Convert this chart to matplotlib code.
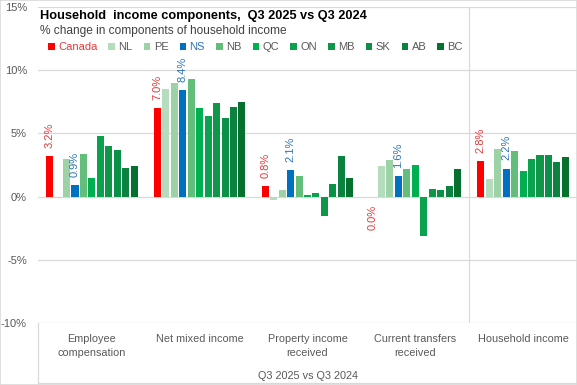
import matplotlib
matplotlib.use("Agg")
import matplotlib.pyplot as plt
from matplotlib import font_manager
from matplotlib.patches import Rectangle
from matplotlib.lines import Line2D
import numpy as np

# pick a narrow font if the box has one
names = {f.name for f in font_manager.fontManager.ttflist}
narrow = "Liberation Sans Narrow" in names
if narrow:
    plt.rcParams['font.family'] = ['Liberation Sans Narrow', 'DejaVu Sans']
else:
    plt.rcParams['font.family'] = ['Liberation Sans', 'DejaVu Sans']

# data
categories = ["Employee\ncompensation", "Net mixed income", "Property income\nreceived",
              "Current transfers\nreceived", "Household income"]
regions = ["Canada", "NL", "PE", "NS", "NB", "QC", "ON", "MB", "SK", "AB", "BC"]

canada = [3.2, 7.0, 0.8, 0.0, 2.8]
nl = [-0.1, 8.5, -0.3, 2.4, 1.4]
pe = [3.0, 9.0, 0.5, 2.9, 3.8]
ns = [0.9, 8.4, 2.1, 1.6, 2.2]
nb = [3.4, 9.3, 1.6, 2.2, 3.6]
qc = [1.5, 7.0, 0.1, 2.5, 2.0]
on = [4.8, 6.4, 0.3, -3.1, 3.0]
mb = [4.0, 7.4, -1.5, 0.6, 3.3]
sk = [3.7, 6.2, 1.0, 0.5, 3.3]
ab = [2.3, 7.1, 3.2, 0.8, 2.7]
bc = [2.4, 7.5, 1.5, 2.2, 3.1]
series = [canada, nl, pe, ns, nb, qc, on, mb, sk, ab, bc]

colors = ['#FF0000', '#B5DCBD', '#9DD2A6', '#0070C0', '#63BE7B', '#00B050',
          '#0AA24F', '#109649', '#0A9047', '#0B8240', '#06702F']
labelled = {"Canada": '#E8383B', "NS": '#2E75B6'}
grey_txt = '#595959'
grid_col = '#D9D9D9'

fig = plt.figure(figsize=(5.77, 3.85), dpi=100)
ax = fig.add_axes([38/577, 62/385, 539/577, 316/385])

x = np.arange(len(categories))
pitch = 0.0784
width = 0.065
for i, (name, vals) in enumerate(zip(regions, series)):
    pos = x + (i - 5) * pitch
    ax.bar(pos, vals, width, color=colors[i], label=name, zorder=3)
    if name in labelled:
        for xp, v in zip(pos, vals):
            up = v > 0
            ax.annotate(f"{v:.1f}%", (xp, v), xytext=(0, 6 if up else -6),
                        textcoords='offset points', rotation=90, ha='center',
                        va='bottom' if up else 'top', fontsize=8,
                        color=labelled[name])

ax.set_xlim(-0.5, 4.5)
ax.set_ylim(-10, 15)
ax.set_yticks([-10, -5, 0, 5, 10, 15])
ax.set_yticklabels([f"{t}%" for t in [-10, -5, 0, 5, 10, 15]])
ax.set_xticks(x)
ax.set_xticklabels(categories, linespacing=1.45)
ax.tick_params(axis='y', length=0, pad=8, labelsize=8, labelcolor=grey_txt)
ax.tick_params(axis='x', length=0, pad=8, labelsize=7.8, labelcolor=grey_txt)
ax.grid(axis='y', color=grid_col, lw=0.9, zorder=0)
ax.axvline(3.5, color=grid_col, lw=0.9, zorder=0)
for s in ax.spines.values():
    s.set_visible(False)

# box under the plot and chart border
fig.add_artist(Line2D([38/577, 38/577], [2/385, 62/385], color=grid_col, lw=0.9))
fig.add_artist(Line2D([38/577, 1], [2/385, 2/385], color=grid_col, lw=0.9))
fig.add_artist(Rectangle((0, 0), 1, 1, transform=fig.transFigure, fill=False,
                         edgecolor=grid_col, lw=1.2))

fig.text(0.5 * (38 + 577) / 577, 1 - 376/385, "Q3 2025 vs Q3 2024", ha='center', va='center',
         fontsize=7.8, color=grey_txt)

fig.text(40/577, 1 - 16/385, "Household  income components,  Q3 2025 vs Q3 2024",
         fontsize=9.2, fontweight='bold', color='black', va='center')
fig.text(40/577, 1 - 31/385, "% change in components of household income",
         fontsize=8.6, color='#404040', va='center')

leg = fig.legend(loc='center left', bbox_to_anchor=(48/577, 1 - 47.5/385), ncol=11,
                 frameon=False, fontsize=8, handlelength=0.6, handleheight=0.6,
                 handletextpad=0.3, columnspacing=1.0, borderaxespad=0, borderpad=0)
for t in leg.get_texts():
    t.set_color(labelled.get(t.get_text(), grey_txt))

fig.savefig("out.png", dpi=100)
